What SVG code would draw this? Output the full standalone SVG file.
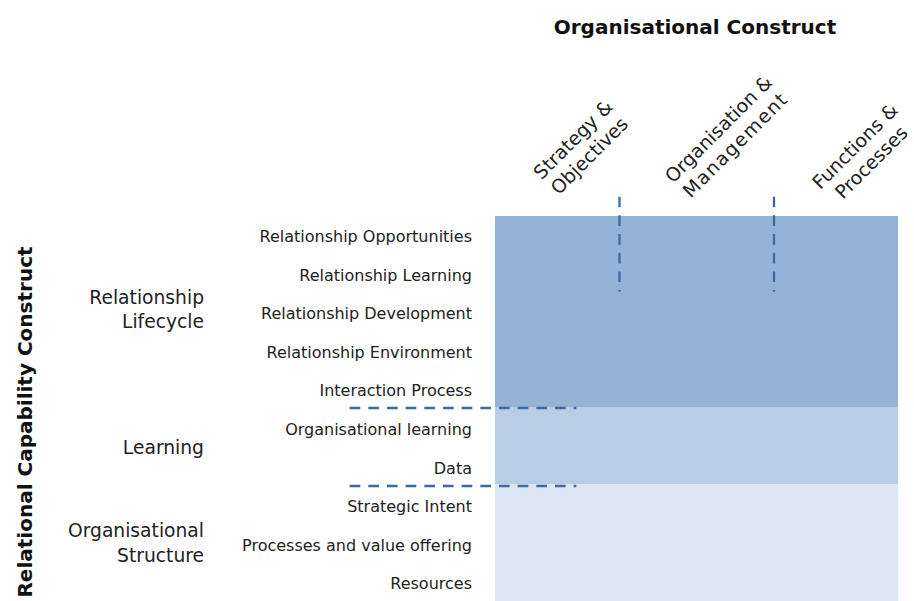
<svg xmlns="http://www.w3.org/2000/svg" width="914" height="601" viewBox="0 0 914 601">
<style>
text{font-family:"DejaVu Sans","Liberation Sans",sans-serif;fill:#222}
.t{font-size:20px;font-weight:bold;fill:#111}
.row{font-size:16px;text-anchor:end}
.grp{font-size:18.7px;text-anchor:end}
.hdr{font-size:19px;text-anchor:middle}
.dash{stroke:#3d6aa0;stroke-width:2.3;stroke-dasharray:10.67 8;fill:none}
</style>
<rect width="914" height="601" fill="#ffffff"/>
<g id="bands">
<rect id="band-lifecycle" x="495" y="216" width="403" height="191" fill="#95b3d7"/>
<rect id="band-learning" x="495" y="407" width="403" height="77" fill="#b9cde5"/>
<rect id="band-structure" x="495" y="484" width="403" height="117" fill="#dce6f2"/>
</g>
<g id="connectors">
<line class="dash" x1="349.6" y1="408" x2="576.3" y2="408"/>
<line class="dash" x1="349.6" y1="486" x2="576.3" y2="486"/>
<line class="dash" x1="619.5" y1="196.7" x2="619.5" y2="291.7"/>
<line class="dash" x1="774" y1="196.7" x2="774" y2="291.7"/>
</g>
<g id="title-org"><text class="t" x="695" y="34" text-anchor="middle">Organisational Construct</text></g>
<g id="title-rel"><text class="t" transform="translate(32,422) rotate(-90)" text-anchor="middle">Relational Capability Construct</text></g>
<g id="col-strategy" transform="translate(581,147.5) rotate(-45)"><text class="hdr"><tspan x="0" y="-4.6">Strategy &amp;</tspan><tspan x="0" y="18.4">Objectives</tspan></text></g>
<g id="col-organisation" transform="translate(726.5,137) rotate(-45)"><text class="hdr"><tspan x="0" y="-4.6">Organisation &amp;</tspan><tspan x="0" y="18.4" textLength="138">Management</tspan></text></g>
<g id="col-functions" transform="translate(863,154) rotate(-45)"><text class="hdr"><tspan x="0" y="-4.6">Functions &amp;</tspan><tspan x="0" y="18.4">Processes</tspan></text></g>
<g id="grp-lifecycle"><text class="grp"><tspan x="204" y="304">Relationship</tspan><tspan x="204" y="328">Lifecycle</tspan></text></g>
<g id="grp-learning"><text class="grp" x="204" y="454">Learning</text></g>
<g id="grp-structure"><text class="grp"><tspan x="204" y="537">Organisational</tspan><tspan x="204" y="562">Structure</tspan></text></g>
<g id="rows">
<g id="row-1"><text class="row" x="472" y="242">Relationship Opportunities</text></g>
<g id="row-2"><text class="row" x="472" y="280.6">Relationship Learning</text></g>
<g id="row-3"><text class="row" x="472" y="319.2">Relationship Development</text></g>
<g id="row-4"><text class="row" x="472" y="357.8">Relationship Environment</text></g>
<g id="row-5"><text class="row" x="472" y="396.4">Interaction Process</text></g>
<g id="row-6"><text class="row" x="472" y="435">Organisational learning</text></g>
<g id="row-7"><text class="row" x="472" y="473.6">Data</text></g>
<g id="row-8"><text class="row" x="472" y="512.2">Strategic Intent</text></g>
<g id="row-9"><text class="row" x="472" y="550.8">Processes and value offering</text></g>
<g id="row-10"><text class="row" x="472" y="589.4">Resources</text></g>
</g>
</svg>
